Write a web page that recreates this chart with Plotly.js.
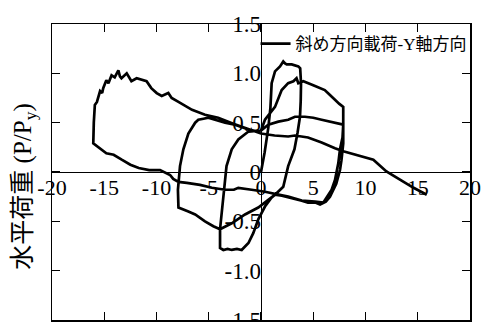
<!DOCTYPE html>
<html>
<head>
<meta charset="utf-8">
<script src="https://cdn.plot.ly/plotly-3.0.1.min.js"></script>
<style>
  html, body { margin: 0; padding: 0; background: #fff; }
  #chart { width: 481px; height: 322px; }
</style>
</head>
<body>
<div id="chart"></div>
<script>
// Cycle 1 (about ±4)
const cycle1X = [0, 0.35, 0.7, 0.9, 1.02, 1.34, 1.82, 2.13, 2.3, 2.46, 2.94, 3.3, 3.57, 3.75, 3.83, 3.8, 3.73, 3.5, 3.2, 2.6, 2.13, 1.34, 1.0, 0.38, -0.26, -0.74, -1.2, -1.85, -2.3, -2.8, -3.2, -3.6, -3.92, -3.92, -3.77, -3.6, -3.3, -2.8, -2.17, -1.2, -0.26, 0];
const cycle1Y = [0, 0.2, 0.45, 0.65, 0.9, 1.02, 1.07, 1.12, 1.1, 1.09, 1.09, 1.08, 1.07, 1.05, 0.9, 0.72, 0.56, 0.4, 0.23, 0.06, -0.15, -0.23, -0.26, -0.35, -0.48, -0.62, -0.72, -0.79, -0.78, -0.79, -0.78, -0.79, -0.77, -0.58, -0.41, -0.25, 0.06, 0.23, 0.33, 0.41, 0.42, 0.42];

// Cycle 2 (about ±8)
const cycle2X = [0.38, 1.34, 1.98, 2.6, 3.1, 3.4, 3.57, 4.05, 5.0, 5.5, 6.1, 6.6, 7.08, 7.5, 7.87, 7.9, 7.87, 7.7, 7.56, 7.2, 6.92, 6.6, 6.2, 5.65, 5.2, 4.5, 3.9, 3.2, 2.6, 2.0, 1.34, 0.7, -0.26, -1.53, -2.8, -3.92, -4.56, -5.36, -6.3, -6.95, -7.9, -7.95, -7.75, -7.43, -6.95, -6.3, -6.0, -5.5, -5.04, -4.4, -3.44, -2.5, -1.2, -0.26, 0];
const cycle2Y = [0.53, 0.66, 0.83, 0.9, 0.92, 0.95, 0.9, 0.92, 0.88, 0.86, 0.83, 0.78, 0.73, 0.69, 0.66, 0.43, 0.29, 0.12, 0.02, -0.12, -0.18, -0.25, -0.3, -0.33, -0.31, -0.31, -0.29, -0.27, -0.25, -0.24, -0.23, -0.28, -0.36, -0.43, -0.52, -0.58, -0.55, -0.5, -0.43, -0.4, -0.36, -0.18, 0.06, 0.23, 0.39, 0.5, 0.53, 0.54, 0.55, 0.53, 0.5, 0.48, 0.43, 0.41, 0.42];

// Cycle 3 (to +8, then -16, then +16)
const cycle3X = [0.7, 1.66, 2.6, 3.25, 4.2, 5.0, 5.8, 7.08, 7.87, 7.8, 7.56, 7.4, 7.08, 6.76, 6.28, 5.97, 5.17, 3.9, 2.6, 1.34, 0.38, -0.9, -2.17, -2.6, -3.44, -4.7, -5.84, -7.1, -7.9, -8.4, -8.7, -9.66, -10.7, -11.7, -12.5, -13.33, -14.1, -14.8, -15.6, -16.05, -16.0, -15.9, -15.7, -15.4, -15.2, -15.1, -14.8, -14.6, -14.3, -14.0, -13.65, -13.5, -13.35, -12.85, -12.4, -11.9, -10.95, -10.5, -9.98, -9.5, -8.87, -8.55, -7.9, -6.95, -6.6, -5.36, -4.1, -2.65, -1.5, -0.74, 0, 1.3, 2.6, 3.25, 4.5, 5.8, 6.6, 7.08, 7.87, 9.16, 10.75, 12.0, 13.3, 14.6, 15.86];
const cycle3Y = [0.48, 0.51, 0.53, 0.56, 0.56, 0.55, 0.53, 0.5, 0.48, 0.35, 0.23, 0.09, -0.08, -0.18, -0.26, -0.31, -0.3, -0.29, -0.25, -0.22, -0.2, -0.18, -0.16, -0.18, -0.18, -0.16, -0.13, -0.11, -0.1, -0.07, -0.03, 0.02, 0.02, 0.04, 0.074, 0.125, 0.175, 0.19, 0.26, 0.29, 0.5, 0.68, 0.71, 0.82, 0.8, 0.85, 0.93, 0.9, 0.98, 0.96, 1.03, 0.97, 0.95, 1.0, 0.92, 0.95, 0.92, 0.85, 0.8, 0.77, 0.8, 0.75, 0.71, 0.65, 0.63, 0.58, 0.55, 0.49, 0.45, 0.42, 0.39, 0.37, 0.36, 0.37, 0.35, 0.3, 0.26, 0.24, 0.21, 0.175, 0.125, 0.006, -0.08, -0.16, -0.23];

const xTickVals = [-20, -15, -10, -5, 0, 5, 10, 15, 20];
const xTickText = ["-20", "-15", "-10", "-5", "0", "5", "10", "15", "20"];
const yTickVals = [-1.5, -1.0, -0.5, 0, 0.5, 1.0, 1.5];
const yTickText = ["-1.5", "-1.0", "-0.5", "0", "0.5", "1.0", "1.5"];

const seriesName = "斜め方向載荷-Y軸方向";
const yTitle = "水平荷重 (P/P<sub>y</sub>)";

const allX = cycle1X.concat(cycle2X, cycle3X);
const allY = cycle1Y.concat(cycle2Y, cycle3Y);

const serif = "Liberation Serif, Noto Sans CJK JP, serif";

const traces = [
  {
    x: allX, y: allY, type: "scatter", mode: "lines", name: seriesName,
    line: { color: "#000", width: 2.7, shape: "linear" },
    xaxis: "x", yaxis: "y"
  },
  {
    x: [null], y: [null], type: "scatter", mode: "lines", showlegend: false,
    hoverinfo: "skip", xaxis: "x2", yaxis: "y2"
  }
];

const frameAxis = {
  showline: true, linecolor: "#000", linewidth: 1.5, mirror: "ticks",
  ticks: "inside", ticklen: 8, tickwidth: 1.2, tickcolor: "#000",
  showticklabels: false, showgrid: false,
  zeroline: true, zerolinecolor: "#000", zerolinewidth: 1
};

const layout = {
  width: 481, height: 322,
  margin: { l: 52, r: 11, t: 24, b: 2 },
  paper_bgcolor: "#fff", plot_bgcolor: "#fff",
  showlegend: true,
  legend: {
    x: 0.487, y: 0.932, xanchor: "left", yanchor: "middle",
    bgcolor: "rgba(0,0,0,0)", borderwidth: 0,
    font: { family: serif, size: 17, color: "#000" }
  },
  xaxis: Object.assign({}, frameAxis, { range: [-20, 20], tickvals: xTickVals }),
  yaxis: Object.assign({}, frameAxis, { range: [-1.5, 1.5], tickvals: yTickVals }),
  xaxis2: {
    overlaying: "x", anchor: "free", position: 0.5, side: "bottom",
    range: [-20, 20], tickvals: xTickVals, ticktext: xTickText,
    showline: false, ticks: "", showgrid: false, zeroline: false,
    ticklabeloverflow: "allow",
    tickfont: { family: serif, size: 22, color: "#000" }
  },
  yaxis2: {
    overlaying: "y", anchor: "free", position: 0.5, side: "left",
    range: [-1.5, 1.5], tickvals: yTickVals, ticktext: yTickText,
    showline: false, ticks: "", showgrid: false, zeroline: false,
    ticklabeloverflow: "allow",
    tickfont: { family: serif, size: 23, color: "#000" }
  },
  annotations: [
    {
      text: yTitle, xref: "paper", yref: "paper",
      x: -0.065, y: 0.45, xanchor: "center", yanchor: "middle",
      textangle: -90, showarrow: false,
      font: { family: serif, size: 25, color: "#000" }
    }
  ]
};

Plotly.newPlot("chart", traces, layout, { displayModeBar: false, staticPlot: true });
</script>
</body>
</html>
